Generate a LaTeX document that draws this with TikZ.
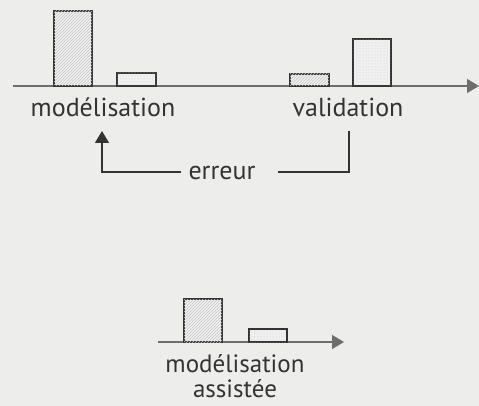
\documentclass[tikz,border=0pt]{standalone}
\usepackage{fontspec}
\setmainfont[Ligatures=NoCommon]{PT Sans}
\usetikzlibrary{arrows.meta,patterns}
\definecolor{paper}{HTML}{EDEDEB}
\definecolor{ink}{HTML}{333333}
\definecolor{axisgray}{HTML}{6E6E6E}
\tikzset{
  axis/.style={draw=axisgray, line width=1.4pt, -{Triangle[length=12pt,width=14pt]}},
  bar/.style={draw=ink, line width=1.3pt, fill=gray!12},
  hatchbar/.style={bar, postaction={pattern=north east lines, pattern color=gray!45}},
  dotbar/.style={bar, postaction={pattern=dots, pattern color=gray!40}},
  lbl/.style={text=ink, font=\fontsize{26}{28}\selectfont, inner sep=0pt},
  lbltwo/.style={text=ink, font=\fontsize{25}{25.5}\selectfont, inner sep=0pt, align=center},
  loop/.style={draw=ink, line width=1.3pt},
  looparrow/.style={loop, -{Triangle[length=12pt,width=14pt]}, draw=ink},
}
\begin{document}
\begin{tikzpicture}[x=1pt,y=-1pt]
\useasboundingbox[fill=paper] (0,0) rectangle (479,406);
% upper time line
\coordinate (a0) at (13,86);
\coordinate (a1) at (479,86);
\draw[axis] (a0) -- (a1);
\draw[hatchbar] (54,86) rectangle (92,11);
\draw[dotbar] (117,86) rectangle (156,73);
\draw[hatchbar] (290,86) rectangle (329,74);
\draw[dotbar] (353,86) rectangle (391,39);
\node[lbl, anchor=base] (mod) at (103,117) {modélisation};
\node[lbl, anchor=base] (val) at (348,117) {validation};
\node[lbl, anchor=base] (err) at (222,180) {erreur};
% error feedback loop
\coordinate (v0) at (349,131);
\coordinate (v1) at (349,172);
\coordinate (m1) at (102,172);
\coordinate (m0) at (102,131);
\draw[loop] (v0) -- (v1) -- (278,172);
\draw[looparrow] (181,172) -- (m1) -- (m0);
% lower time line
\coordinate (b0) at (158,342);
\coordinate (b1) at (344,342);
\draw[axis] (b0) -- (b1);
\draw[hatchbar] (184,342) rectangle (222,299);
\draw[dotbar] (249,342) rectangle (287,329);
\node[lbltwo, anchor=center] (modA) at (235,376) {modélisation\\assistée};
\end{tikzpicture}
\end{document}
